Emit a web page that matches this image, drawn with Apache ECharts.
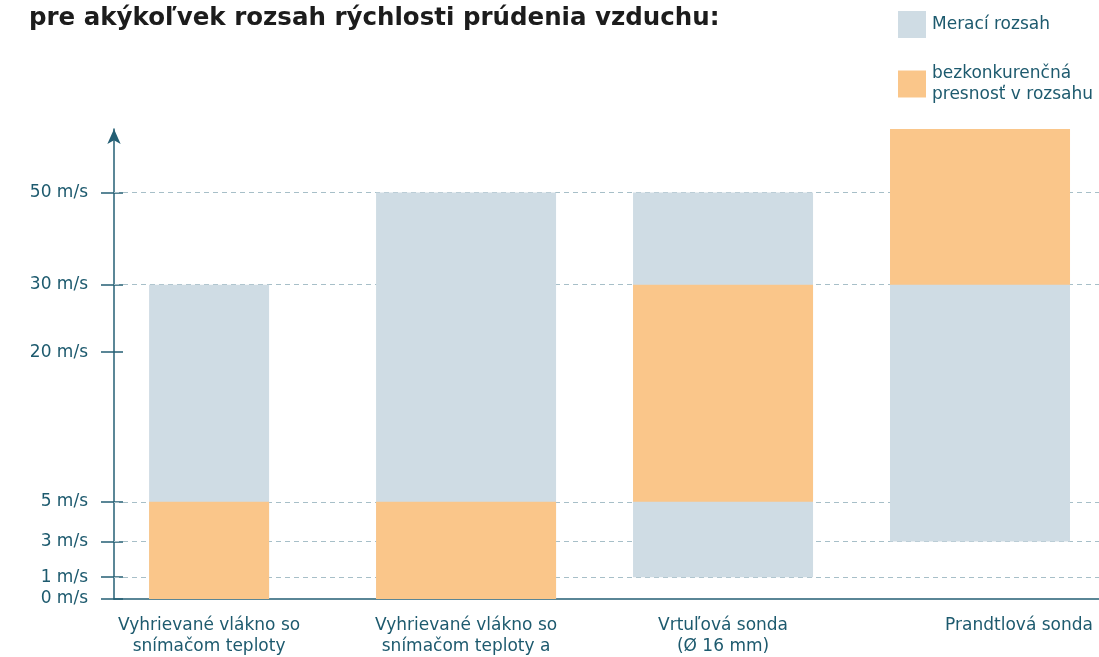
<!DOCTYPE html>
<html>
<head>
<meta charset="utf-8">
<script src="https://cdn.jsdelivr.net/npm/echarts@6/dist/echarts.min.js"></script>
<style>
  html, body { margin: 0; padding: 0; background: #ffffff; }
  #chart { width: 1099px; height: 657px; }
</style>
</head>
<body>
<div id="chart"></div>
<script>
// ---- data ----
const titleText = 'pre akýkoľvek rozsah rýchlosti prúdenia vzduchu:';
const categories = [
  'Vyhrievané vlákno so\nsnímačom teploty',
  'Vyhrievané vlákno so\nsnímačom teploty a',
  'Vrtuľová sonda\n(Ø 16 mm)',
  'Prandtlová sonda'
];
const seriesNames = ['Merací rozsah', 'bezkonkurenčná\npresnosť v rozsahu'];
// measuring range [from, to] in m/s
const measuringRange = [[0, 30], [0, 50], [1, 50], [3, 100]];
// range of best accuracy [from, to] in m/s
const accuracyRange = [[0, 5], [0, 5], [5, 30], [30, 100]];
// labelled ticks (m/s) and dashed guide lines (m/s)
const tickSpeeds = [0, 1, 3, 5, 20, 30, 50];
const guideSpeeds = [1, 3, 5, 30, 50];
// non-linear speed scale: breakpoints of the piecewise-linear axis
const speedStops = [0, 1, 3, 5, 20, 30, 50, 100];
const scaleStops = [0, 22, 58, 98, 249, 317, 410, 474];

// ---- styling ----
const barWidths = [120, 180, 180, 180];
const GREY = '#cfdce4';
const ORANGE = '#fac68a';
const TEAL = '#1d5a6e';
const AXIS = '#245f74';
const GUIDE = '#a7bfc8';
const FONT = '"DejaVu Sans", sans-serif';

function toAxis(v) {
  for (let i = 1; i < speedStops.length; i++) {
    if (v <= speedStops[i]) {
      const t = (v - speedStops[i - 1]) / (speedStops[i] - speedStops[i - 1]);
      return scaleStops[i - 1] + t * (scaleStops[i] - scaleStops[i - 1]);
    }
  }
  return scaleStops[scaleStops.length - 1];
}
function fromAxis(a) {
  for (let i = 1; i < scaleStops.length; i++) {
    if (a <= scaleStops[i] + 1e-6) {
      const t = (a - scaleStops[i - 1]) / (scaleStops[i] - scaleStops[i - 1]);
      return speedStops[i - 1] + t * (speedStops[i] - speedStops[i - 1]);
    }
  }
  return speedStops[speedStops.length - 1];
}

const tickAxisValues = tickSpeeds.map(toAxis);
const axisMax = toAxis(speedStops[speedStops.length - 1]);

function rangeData(ranges) {
  return ranges.map((r, i) => [i, toAxis(r[0]), toAxis(r[1])]);
}
function makeRender(color) {
  return function (params, api) {
    const idx = api.value(0);
    const lo = api.coord([idx, api.value(1)]);
    const hi = api.coord([idx, api.value(2)]);
    const w = barWidths[idx];
    return {
      type: 'rect',
      shape: { x: lo[0] - w / 2, y: hi[1], width: w, height: lo[1] - hi[1] },
      style: { fill: color }
    };
  };
}

const chart = echarts.init(document.getElementById('chart'), null, { renderer: 'canvas' });
chart.setOption({
  animation: false,
  backgroundColor: '#ffffff',
  title: {
    text: titleText,
    left: 29,
    top: 6,
    padding: 0,
    textStyle: { fontFamily: FONT, fontWeight: 'bold', fontSize: 24.5, color: '#1c1c1c' }
  },
  legend: {
    data: seriesNames,
    orient: 'vertical',
    left: 898,
    top: 11,
    padding: 0,
    itemWidth: 28,
    itemHeight: 27,
    itemGap: 22,
    icon: 'rect',
    selectedMode: false,
    textStyle: { fontFamily: FONT, fontSize: 17, color: TEAL, lineHeight: 21, padding: [6, 0, 0, 1] }
  },
  grid: { left: 114, right: 0, top: 603 - 474, bottom: 54, containLabel: false },
  xAxis: {
    type: 'value',
    min: -0.37,
    max: 3.463,
    axisLine: { show: true, onZero: false, lineStyle: { color: AXIS, width: 1.5 } },
    axisTick: { show: false },
    splitLine: { show: false },
    axisLabel: {
      customValues: [0, 1, 2, 3],
      formatter: (v) => {
        const i = Math.round(v);
        const name = categories[i] || '';
        return i === 3 ? '{far|' + name + '}' : name;
      },
      color: TEAL,
      fontFamily: FONT,
      fontSize: 17,
      lineHeight: 21,
      margin: 16,
      rich: {
        far: { fontFamily: FONT, fontSize: 17, color: TEAL, lineHeight: 21, padding: [0, 0, 0, 78] }
      }
    }
  },
  yAxis: [
    {
      type: 'value',
      min: 0,
      max: axisMax,
      axisLine: {
        show: true,
        onZero: false,
        lineStyle: { color: AXIS, width: 1.5 },
        symbol: ['none', 'arrow'],
        symbolSize: [10, 15],
        symbolOffset: [0, 0]
      },
      axisTick: {
        show: true, inside: false, length: 13,
        customValues: tickAxisValues,
        lineStyle: { color: AXIS, width: 1.5 }
      },
      splitLine: { show: false },
      axisLabel: {
        customValues: tickAxisValues,
        formatter: (v) => Math.round(fromAxis(v)) + ' m/s',
        color: TEAL,
        fontFamily: FONT,
        fontSize: 17,
        margin: 26,
        padding: [0, 0, 12, 0]
      }
    },
    {
      type: 'value',
      min: 0,
      max: axisMax,
      position: 'left',
      axisLine: { show: false, onZero: false },
      axisTick: {
        show: true, inside: true, length: 9,
        customValues: tickAxisValues,
        lineStyle: { color: AXIS, width: 1.5 }
      },
      splitLine: { show: false },
      axisLabel: { show: false }
    }
  ],
  series: [
    {
      name: seriesNames[0],
      type: 'custom',
      z: 3,
      itemStyle: { color: GREY },
      renderItem: makeRender(GREY),
      data: rangeData(measuringRange),
      markLine: {
        silent: true,
        symbol: ['none', 'none'],
        z: 1,
        label: { show: false },
        lineStyle: { color: GUIDE, type: [5, 4], width: 1.2 },
        data: guideSpeeds.map((s) => ({ yAxis: toAxis(s) }))
      }
    },
    {
      name: seriesNames[1],
      type: 'custom',
      z: 4,
      itemStyle: { color: ORANGE },
      renderItem: makeRender(ORANGE),
      data: rangeData(accuracyRange)
    }
  ]
});
</script>
</body>
</html>
